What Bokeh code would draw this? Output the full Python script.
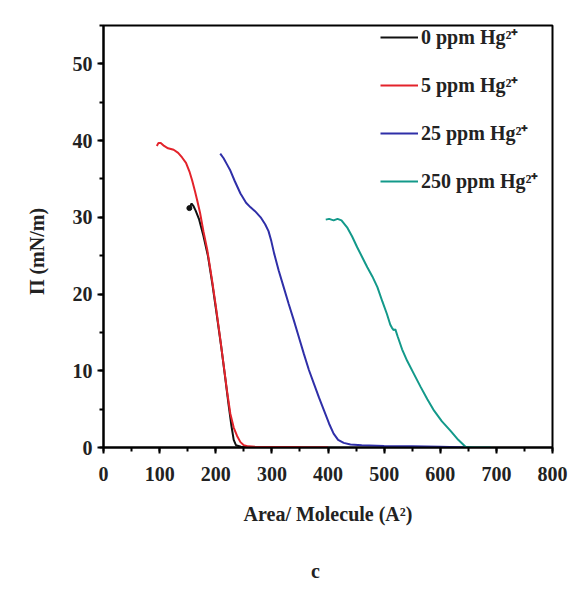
from bokeh.plotting import figure
from bokeh.models import Range1d, SingleIntervalTicker, Legend, LegendItem
from bokeh.layouts import column
from bokeh.core.properties import value
from bokeh.embed import file_html
from bokeh.resources import INLINE

# ---- data ----
x_0ppm = [153, 157, 160, 164, 170, 178, 186, 194, 202, 210, 217, 223, 228, 232, 236, 245, 260, 290]
y_0ppm = [31.2, 31.8, 31.5, 30.9, 29.8, 27.6, 25.0, 21.3, 17.2, 13.0, 9.0, 5.5, 2.8, 1.0, 0.3, 0.1, 0.05, 0.0]

x_5ppm = [95, 98, 102, 108, 115, 125, 133, 140, 147, 153, 158, 163, 167, 172, 178, 185, 193, 200,
          207, 214, 220, 226, 232, 238, 244, 250, 258, 270, 300, 350, 400]
y_5ppm = [39.3, 39.7, 39.7, 39.3, 39.0, 38.8, 38.4, 37.8, 37.1, 36.0, 34.8, 33.4, 32.2, 30.6, 28.2, 25.7,
          22.0, 18.5, 14.7, 10.8, 7.4, 4.4, 2.6, 1.5, 0.7, 0.3, 0.15, 0.1, 0.08, 0.05, 0.03]

x_25ppm = [208, 214, 220, 226, 234, 244, 254, 262, 270, 280, 288, 294, 299, 304, 312, 321, 330, 339,
           348, 357, 366, 375, 384, 393, 402, 410, 418, 428, 440, 460, 500, 550, 600, 650]
y_25ppm = [38.3, 37.7, 36.9, 36.1, 34.7, 33.1, 31.9, 31.3, 30.8, 30.0, 29.1, 28.2, 26.9, 25.3, 23.1,
           20.9, 18.7, 16.6, 14.4, 12.2, 10.1, 8.3, 6.5, 4.8, 3.1, 1.8, 1.0, 0.6, 0.4, 0.3, 0.2, 0.15,
           0.1, 0.0]

x_250ppm = [396, 402, 410, 417, 424, 434, 443, 452, 461, 470, 479, 488, 497, 505, 511, 514, 517, 520,
            524, 532, 541, 553, 565, 577, 589, 603, 618, 632, 645, 660, 690]
y_250ppm = [29.7, 29.8, 29.6, 29.8, 29.6, 28.7, 27.5, 26.1, 24.8, 23.5, 22.3, 20.9, 19.0, 17.4, 16.0,
            15.6, 15.3, 15.4, 14.5, 12.8, 11.3, 9.6, 7.9, 6.3, 4.8, 3.4, 2.2, 1.0, 0.1, 0.0, 0.0]

series_labels = ["0 ppm Hg\u00b2\u207a", "5 ppm Hg\u00b2\u207a", "25 ppm Hg\u00b2\u207a", "250 ppm Hg\u00b2\u207a"]
series_colors = ["#111111", "#e3232b", "#2f2fa8", "#13998a"]

x_title = "Area/ Molecule (A\u00b2)"
y_title = "\u03a0 (mN/m)"
panel_tag = "c"

FONT = "Liberation Serif"
TXT = "#222222"

p = figure(width=572, height=560, output_backend="svg", toolbar_location=None,
           x_range=Range1d(0, 800), y_range=Range1d(0, 55),
           min_border_left=103, min_border_right=20, min_border_top=25, min_border_bottom=113)

p.xgrid.visible = False
p.ygrid.visible = False
p.outline_line_color = "black"
p.outline_line_width = 2
p.background_fill_color = "white"
p.border_fill_color = "white"

renderers = []
for xs, ys, c in zip([x_0ppm, x_5ppm, x_25ppm, x_250ppm],
                     [y_0ppm, y_5ppm, y_25ppm, y_250ppm], series_colors):
    r = p.line(xs, ys, line_color=c, line_width=2)
    renderers.append(r)
# small marker at the start of the 0 ppm curve
p.scatter(x_0ppm[:1], y_0ppm[:1], size=5, color=series_colors[0])

p.xaxis.ticker = SingleIntervalTicker(interval=100, num_minor_ticks=2)
p.yaxis.ticker = SingleIntervalTicker(interval=10, num_minor_ticks=2)

for ax in [p.xaxis[0], p.yaxis[0]]:
    ax.axis_line_width = 2
    ax.axis_line_color = "black"
    ax.major_tick_line_width = 2
    ax.minor_tick_line_width = 2
    ax.major_tick_line_color = "black"
    ax.minor_tick_line_color = "black"
    ax.major_tick_out = 6
    ax.major_tick_in = 0
    ax.minor_tick_out = 4
    ax.minor_tick_in = 0
    ax.major_label_text_font = FONT
    ax.major_label_text_font_style = "bold"
    ax.major_label_text_font_size = "20px"
    ax.major_label_text_color = TXT
    ax.axis_label_text_font = FONT
    ax.axis_label_text_font_style = "bold"
    ax.axis_label_text_font_size = "20px"
    ax.axis_label_text_color = TXT

p.xaxis.axis_label = x_title
# trailing no-break spaces shift the rotated label slightly downward, as in the reference
p.yaxis.axis_label = y_title + "\u00a0" * 6
p.xaxis.major_label_standoff = 13
p.xaxis.axis_label_standoff = 19
p.yaxis.major_label_standoff = 5
p.yaxis.axis_label_standoff = 22

legend = Legend(items=[LegendItem(label=l, renderers=[r]) for l, r in zip(series_labels, renderers)],
                location=(277, 253), margin=0, padding=0, spacing=21,
                glyph_width=38, glyph_height=20, label_height=20, label_standoff=3,
                label_text_font=FONT, label_text_font_style="bold", label_text_font_size="20px",
                label_text_color=TXT,
                border_line_color=None, background_fill_alpha=0)
p.add_layout(legend)

# strip under the chart that carries the panel tag "c"
p2 = figure(width=572, height=34, output_backend="svg", toolbar_location=None,
            x_range=Range1d(0, 572), y_range=Range1d(0, 34), min_border=0,
            x_axis_location=None, y_axis_location=None)
p2.grid.visible = False
p2.outline_line_color = None
p2.text(x=[270], y=[24], text=[panel_tag], text_align="center", text_baseline="middle",
        text_font=value(FONT), text_font_style="bold", text_font_size="20px", text_color=TXT)

open("out.html", "w").write(file_html(column(p, p2), INLINE))
